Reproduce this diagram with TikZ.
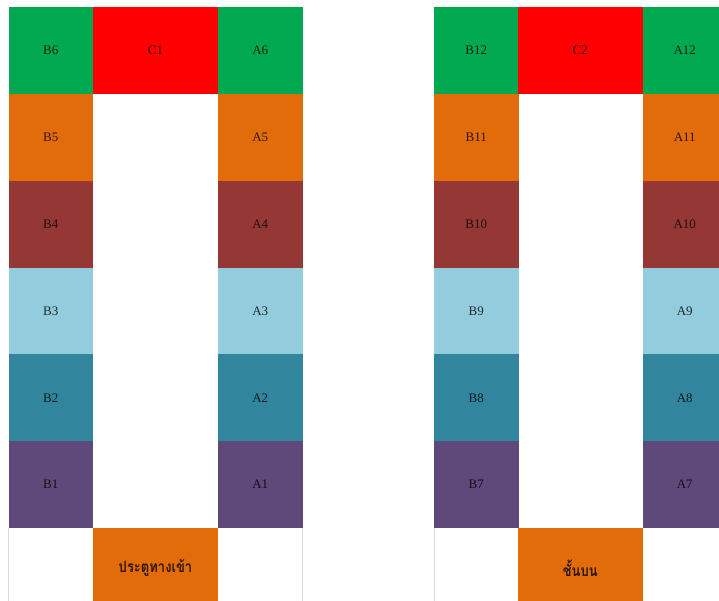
\documentclass[tikz,border=0pt]{standalone}
\usepackage{fontspec}
\setmainfont{Liberation Serif}
\newfontfamily\thaifont[Script=Thai]{Loma}
\definecolor{cgreen}{HTML}{00A850}
\definecolor{cred}{HTML}{FF0000}
\definecolor{corange}{HTML}{E36C0A}
\definecolor{cdred}{HTML}{953735}
\definecolor{clblue}{HTML}{93CDDD}
\definecolor{cteal}{HTML}{31859C}
\definecolor{cpurple}{HTML}{5F497A}
\definecolor{cgrid}{HTML}{DADADA}
\tikzset{
  cell/.style={rectangle, inner sep=0pt, outer sep=0pt, draw=none,
    minimum height=86.83pt, text=black, text opacity=0.8,
    font=\fontsize{13}{15}\selectfont},
  sidecell/.style={cell, minimum width=84.5pt},
  midcell/.style={cell, minimum width=125pt},
  thaicell/.style={cell, minimum width=125pt, minimum height=80pt,
    font=\thaifont\bfseries\fontsize{13}{15}\selectfont, fill=corange},
  gridline/.style={draw=cgrid, line width=0.8pt}
}
\begin{document}
\begin{tikzpicture}[x=1pt,y=-1pt]
\useasboundingbox (0,0) rectangle (719,600);
\clip (0,0) rectangle (719,600);
\fill[white] (0,0) rectangle (719,600);
% left and right groups
\foreach \i/\col in {1/cpurple,2/cteal,3/clblue,4/cdred,5/corange,6/cgreen}{
  \pgfmathsetmacro{\yy}{528-(\i-0.5)*86.83}
  \node[sidecell, fill=\col] (b\i) at (50.75,\yy) {B\i};
  \node[sidecell, fill=\col] (a\i) at (260.25,\yy) {A\i};
  \pgfmathtruncatemacro{\j}{\i+6}
  \node[sidecell, fill=\col] (b\j) at (476.25,\yy) {B\j};
  \node[sidecell, fill=\col] (a\j) at (684.75,\yy) {A\j};
}
\node[midcell, fill=cred] (c1) at (155.5,50.4) {C1};
\node[midcell, fill=cred] (c2) at (580.25,50.4) {C2};
\node[thaicell] (ent) at (155.5,568) {\scalebox{1}[1.2]{ประตูทางเข้า}};
\node[thaicell] (up) at (580.25,568) {\scalebox{1}[1.2]{ชั้นบน}};
% faint table borders of the white bottom cells
\draw[gridline] (b1.south west) -- ++(0,80);
\draw[gridline] (a1.south east) -- ++(0,80);
\draw[gridline] (b7.south west) -- ++(0,80);
\end{tikzpicture}
\end{document}
